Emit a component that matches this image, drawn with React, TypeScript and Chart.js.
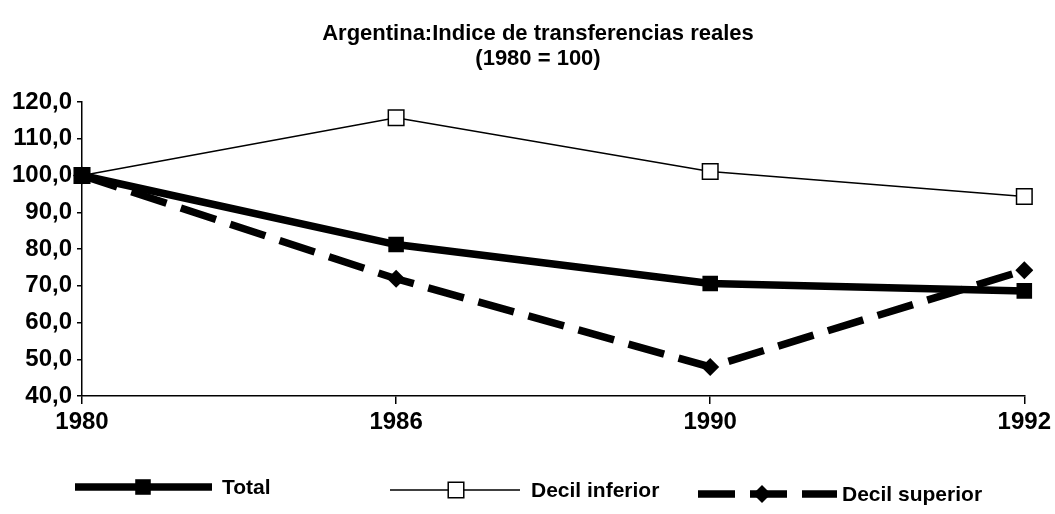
import React, { useEffect, useRef } from 'react';
import { Chart, registerables } from 'chart.js';

Chart.register(...registerables);

const years = ['1980', '1986', '1990', '1992'];
const totalValues = [100, 81.2, 70.6, 68.6];
const decilInferiorValues = [100, 115.7, 101.1, 94.3];
const decilSuperiorValues = [100, 71.9, 47.9, 74.2];
const seriesNames = ['Total', 'Decil inferior', 'Decil superior'];
const titleLines = ['Argentina:Indice de transferencias reales', '(1980 = 100)'];
const yMin = 40;
const yMax = 120;
const yStep = 10;

const FONT = "'Liberation Sans', Arial, Helvetica, sans-serif";

const titlePlugin = {
  id: 'customTitle',
  afterDraw(chart: any) {
    const ctx = chart.ctx;
    ctx.save();
    ctx.fillStyle = '#000';
    ctx.font = `bold 22px ${FONT}`;
    ctx.textAlign = 'center';
    ctx.textBaseline = 'middle';
    ctx.fillText(titleLines[0], 538, 34);
    ctx.fillText(titleLines[1], 538, 59);
    ctx.restore();
  },
};

function drawMarker(ctx: CanvasRenderingContext2D, ds: any, x: number, y: number) {
  const r = ds.pointRadius;
  ctx.save();
  ctx.setLineDash([]);
  ctx.lineWidth = ds.pointBorderWidth;
  ctx.strokeStyle = ds.pointBorderColor;
  ctx.fillStyle = ds.pointBackgroundColor;
  ctx.beginPath();
  if (ds.pointStyle === 'rect') {
    const s = Math.SQRT1_2 * r;
    ctx.rect(x - s, y - s, 2 * s, 2 * s);
  } else {
    ctx.moveTo(x, y - r);
    ctx.lineTo(x + r, y);
    ctx.lineTo(x, y + r);
    ctx.lineTo(x - r, y);
    ctx.closePath();
  }
  ctx.fill();
  if (ds.pointBorderWidth > 0) ctx.stroke();
  ctx.restore();
}

const legendItems = [
  { x0: 75, x1: 212, mx: 143, tx: 222, y: 487 },
  { x0: 390, x1: 520, mx: 456, tx: 531, y: 490 },
  { x0: 698, x1: 837, mx: 762, tx: 842, y: 494 },
];

const legendPlugin = {
  id: 'customLegend',
  afterDraw(chart: any) {
    const ctx = chart.ctx;
    chart.data.datasets.forEach((ds: any, i: number) => {
      const it = legendItems[i];
      ctx.save();
      ctx.strokeStyle = ds.borderColor;
      ctx.lineWidth = ds.borderWidth;
      ctx.setLineDash(ds.borderDash || []);
      ctx.beginPath();
      ctx.moveTo(it.x0, it.y);
      ctx.lineTo(it.x1, it.y);
      ctx.stroke();
      ctx.restore();
      drawMarker(ctx, ds, it.mx, it.y);
      ctx.save();
      ctx.fillStyle = '#000';
      ctx.font = `bold 21px ${FONT}`;
      ctx.textAlign = 'left';
      ctx.textBaseline = 'middle';
      ctx.fillText(ds.label, it.tx, it.y + 1);
      ctx.restore();
    });
  },
};

export default function App() {
  const canvasRef = useRef<HTMLCanvasElement | null>(null);

  useEffect(() => {
    if (!canvasRef.current) return;
    const chart = new Chart(canvasRef.current, {
      type: 'line',
      data: {
        labels: years,
        datasets: [
          {
            label: seriesNames[0],
            data: totalValues,
            borderColor: '#000',
            borderWidth: 7.5,
            pointStyle: 'rect',
            pointRadius: 11,
            pointBackgroundColor: '#000',
            pointBorderColor: '#000',
            pointBorderWidth: 0,
            tension: 0,
          },
          {
            label: seriesNames[1],
            data: decilInferiorValues,
            borderColor: '#000',
            borderWidth: 1.5,
            pointStyle: 'rect',
            pointRadius: 11,
            pointBackgroundColor: '#fff',
            pointBorderColor: '#000',
            pointBorderWidth: 1.5,
            tension: 0,
          },
          {
            label: seriesNames[2],
            data: decilSuperiorValues,
            borderColor: '#000',
            borderWidth: 7.5,
            borderDash: [37, 15],
            pointStyle: 'rectRot',
            pointRadius: 9,
            pointBackgroundColor: '#000',
            pointBorderColor: '#000',
            pointBorderWidth: 0,
            tension: 0,
          },
        ],
      },
      options: {
        animation: false,
        responsive: true,
        maintainAspectRatio: false,
        layout: { padding: { left: 0, right: 28, top: 102, bottom: 78 } },
        plugins: {
          legend: { display: false },
          title: { display: false },
          tooltip: { enabled: false },
        },
        scales: {
          x: {
            type: 'category',
            offset: false,
            grid: { drawOnChartArea: false, drawTicks: true, tickLength: 8, color: '#000', lineWidth: 1.5 },
            border: { display: true, color: '#000', width: 1.5 },
            ticks: {
              color: '#000',
              font: { family: FONT, size: 24, weight: 'bold' },
              padding: 4,
              maxRotation: 0,
              autoSkip: false,
            },
            afterFit(scale: any) {
              scale.height = 40;
            },
          },
          y: {
            min: yMin,
            max: yMax,
            grid: { drawOnChartArea: false, drawTicks: true, tickLength: 5, color: '#000', lineWidth: 1.5 },
            border: { display: true, color: '#000', width: 1.5 },
            ticks: {
              stepSize: yStep,
              color: '#000',
              font: { family: FONT, size: 24, weight: 'bold' },
              padding: 5,
              callback: (v: any) => Number(v).toFixed(1).replace('.', ','),
            },
            afterFit(scale: any) {
              scale.width = 82;
            },
          },
        },
      },
      plugins: [titlePlugin, legendPlugin],
    });
    return () => chart.destroy();
  }, []);

  return (
    <div style={{ position: 'fixed', left: 0, top: 0, width: 1055, height: 514, background: '#fff' }}>
      <canvas ref={canvasRef} />
    </div>
  );
}
